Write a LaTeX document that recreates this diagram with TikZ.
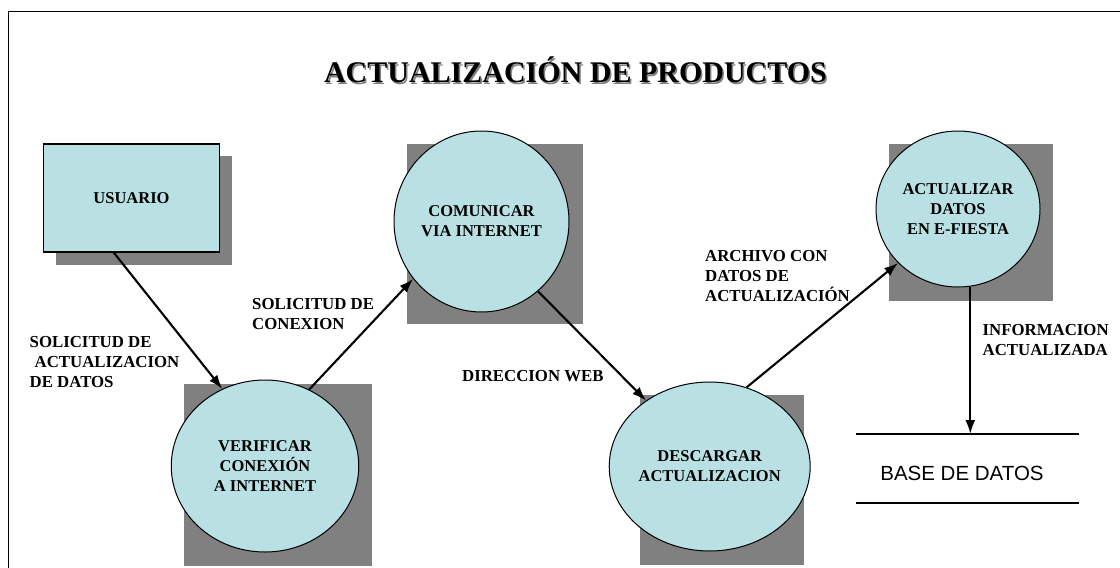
\documentclass[tikz,border=0pt]{standalone}
\usepackage{fontspec}
\setmainfont{Liberation Serif}
\newfontfamily\storefont{Liberation Sans}
\usetikzlibrary{shapes.geometric,arrows.meta}
\definecolor{procfill}{RGB}{185,224,227}
\definecolor{shadowgray}{RGB}{128,128,128}
\begin{document}
\begin{tikzpicture}[x=1pt,y=-1pt,
  shadowbox/.style={fill=shadowgray,draw=none},
  proc/.style={ellipse,draw=black,line width=1pt,fill=procfill,inner sep=0pt,align=center,
    font=\fontsize{16.5}{20}\selectfont\bfseries},
  entity/.style={rectangle,draw=black,line width=1.6pt,fill=procfill,inner sep=0pt,align=center,
    font=\fontsize{16.5}{20}\selectfont\bfseries},
  flow/.style={draw=black,line width=2.1pt,-{Latex[length=14pt,width=10pt]}},
  lbl/.style={inner sep=0pt,align=left,anchor=north west,font=\fontsize{16.8}{20}\selectfont\bfseries},
  titlefont/.style={anchor=base,inner sep=0pt,font=\fontsize{30}{36}\selectfont\bfseries},
  storeline/.style={draw=black,line width=1.2pt},
]
\useasboundingbox (0,0) rectangle (1120,568);
% frame
\draw[line width=1.2pt] (8.5,570) -- (8.5,11.5) -- (1122,11.5);

% title with shadow
\node[titlefont,text=shadowgray] at (577,84) {ACTUALIZACIÓN DE PRODUCTOS};
\node[titlefont] (title) at (575.5,82) {ACTUALIZACIÓN DE PRODUCTOS};

% shadows
\fill[shadowbox] (56,156) rectangle (232,265);
\fill[shadowbox] (407,144) rectangle (583,324);
\fill[shadowbox] (184,384) rectangle (372,566);
\fill[shadowbox] (640,395) rectangle (804,565);
\fill[shadowbox] (888.6,144) rectangle (1053,301);

% nodes
\node[entity,minimum width=175.7pt,minimum height=108pt] (usuario) at (131.5,197.7) {USUARIO};
\node[proc,minimum width=175pt,minimum height=181pt] (comunicar) at (481.5,221.5) {COMUNICAR\\VIA INTERNET};
\node[proc,minimum width=187.5pt,minimum height=172pt] (verificar) at (265,466) {VERIFICAR\\CONEXIÓN\\A INTERNET};
\node[proc,minimum width=163pt,minimum height=169pt] (descargar) at (709.7,466.5) {DESCARGAR\\ACTUALIZACION};
\node[proc,minimum width=164pt,minimum height=156pt] (actualizar) at (958,209) {ACTUALIZAR\\DATOS\\EN E-FIESTA};

% data store
\coordinate (s1a) at (856,434);
\coordinate (s1b) at (1079,434);
\coordinate (s2a) at (856,503);
\coordinate (s2b) at (1079,503);
\draw[storeline] (s1a) -- (s1b);
\draw[storeline] (s2a) -- (s2b);
\node[inner sep=0pt,font=\storefont\fontsize{20.5}{24}\selectfont] (bd) at (962,473) {BASE DE DATOS};

% flows
\draw[flow] (usuario.-108) -- (verificar.119);
\draw[flow] (verificar.60.5) -- (comunicar.220);
\draw[flow] (comunicar.-51.3) -- (descargar.134.6);
\draw[flow] (descargar.65.6) -- (actualizar.222.5);
\draw[flow] (actualizar.-81) -- (actualizar.-81 |- s1a);

% labels
\node[lbl] (l1) at (29.5,336) {SOLICITUD DE\\\hspace*{5pt}ACTUALIZACION\\DE DATOS};
\node[lbl] (l2) at (252,298) {SOLICITUD DE\\CONEXION};
\node[lbl] (l3) at (462,370.5) {DIRECCION WEB};
\node[lbl] (l4) at (705,250.5) {ARCHIVO CON\\DATOS DE\\ACTUALIZACIÓN};
\node[lbl] (l5) at (982.5,324) {INFORMACION\\ACTUALIZADA};
\end{tikzpicture}
\end{document}
